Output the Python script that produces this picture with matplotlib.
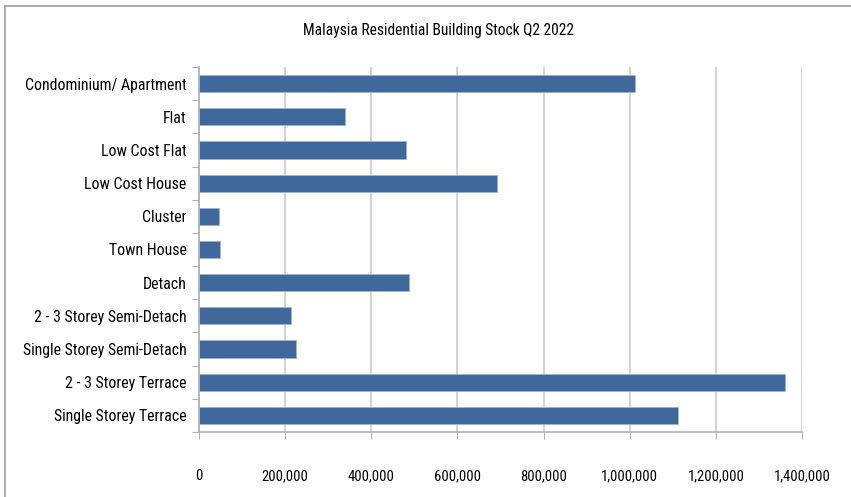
import numpy as np
import matplotlib.pyplot as plt
from matplotlib.lines import Line2D
from matplotlib.ticker import FuncFormatter, FixedLocator

plt.rcParams['font.family'] = ['Roboto Condensed', 'Archivo Narrow', 'Liberation Sans', 'DejaVu Sans']

categories = ['Condominium/ Apartment', 'Flat', 'Low Cost Flat', 'Low Cost House',
              'Cluster', 'Town House', 'Detach', '2 - 3 Storey Semi-Detach',
              'Single Storey Semi-Detach', '2 - 3 Storey Terrace', 'Single Storey Terrace']
stock = [1012000, 338000, 480000, 692000, 46500, 49500, 488000, 213500, 224500,
         1360000, 1113000]
xticks = [0, 200000, 400000, 600000, 800000, 1000000, 1200000, 1400000]

fig = plt.figure(figsize=(8.51, 4.97), dpi=100)
ax = fig.add_axes([199/851, 1 - 432/497, 603/851, 365/497])

y = np.arange(len(categories))
ax.barh(y, stock, height=0.52, color='#41689a', edgecolor='#9db3d0', linewidth=0.7, zorder=3)

ax.set_xlim(0, 1400000)
ax.set_ylim(len(categories) - 0.5, -0.5)
ax.set_xticks(xticks)
ax.xaxis.set_major_formatter(FuncFormatter(lambda v, p: f'{int(v):,}'))
ax.tick_params(axis='x', length=5, color='#b0b0b0', pad=22, labelsize=10.5)

# category boundaries get the tick marks, labels sit between them
ax.yaxis.set_major_locator(FixedLocator(np.arange(-0.5, len(categories), 1)))
ax.set_yticklabels([])
ax.set_yticks(y, minor=True)
ax.set_yticklabels(categories, minor=True)
ax.tick_params(axis='y', which='major', length=5, color='#b0b0b0')
ax.tick_params(axis='y', which='minor', length=0, pad=9, labelsize=11.4)

ax.grid(axis='x', color='#cccccc', linewidth=1.2, zorder=0)
for s in ['top', 'right']:
    ax.spines[s].set_visible(False)
for s in ['left', 'bottom']:
    ax.spines[s].set_color('#b0b0b0')
    ax.spines[s].set_linewidth(1.2)

fig.text(438/851, 1 - 30/497, 'Malaysia Residential Building Stock Q2 2022',
         ha='center', va='center', fontsize=11.2)

# outer chart frame (top and left edges visible)
fig.add_artist(Line2D([5/851, 1], [1 - 6/497, 1 - 6/497], color='#a0a0a0', linewidth=1.2))
fig.add_artist(Line2D([5/851, 5/851], [0, 1 - 6/497], color='#a0a0a0', linewidth=1.2))

fig.savefig('out.png', dpi=100)
